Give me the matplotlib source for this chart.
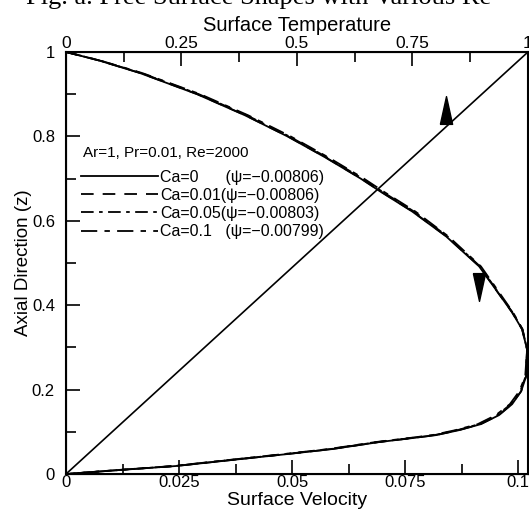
import numpy as np
import matplotlib.pyplot as plt
from matplotlib.path import Path
from matplotlib.ticker import MultipleLocator, FormatStrFormatter

plt.rcParams['font.family'] = ['Liberation Sans', 'DejaVu Sans']

# free surface velocity profiles (axial position z vs surface velocity)
z_pts = [1.0, 0.98, 0.95, 0.90, 0.85, 0.80, 0.75, 0.70, 0.669, 0.622, 0.563,
         0.492, 0.437, 0.383, 0.343, 0.2955, 0.2317, 0.1962, 0.1655, 0.1395, 0.1182,
         0.1040, 0.0922, 0.0851, 0.0757, 0.0591, 0.0473, 0.0331, 0.0189, 0.0095, 0.0]
u_ca0 = [0.0, 0.0073, 0.0164, 0.0290, 0.0396, 0.0490, 0.0574, 0.0652, 0.0696, 0.0766, 0.0841,
         0.0914, 0.0951, 0.0987, 0.1009, 0.1020, 0.1018, 0.1007, 0.0987, 0.0958, 0.0918,
         0.0870, 0.0819, 0.0766, 0.0693, 0.0589, 0.0490, 0.0366, 0.0243, 0.0119, 0.0]
u_ca001 = [0.0, 0.0073, 0.0165, 0.0291, 0.0397, 0.0491, 0.0575, 0.0653, 0.0697, 0.0767, 0.0842,
           0.0915, 0.0951, 0.0987, 0.1009, 0.1020, 0.1018, 0.1007, 0.0986, 0.0957, 0.0917,
           0.0869, 0.0818, 0.0765, 0.0692, 0.0588, 0.0489, 0.0365, 0.0242, 0.0119, 0.0]
u_ca005 = [0.0, 0.0074, 0.0167, 0.0294, 0.0400, 0.0494, 0.0578, 0.0656, 0.0700, 0.0770, 0.0844,
           0.0916, 0.0952, 0.0988, 0.1010, 0.1020, 0.1017, 0.1005, 0.0984, 0.0954, 0.0914,
           0.0866, 0.0815, 0.0762, 0.0689, 0.0585, 0.0486, 0.0362, 0.0240, 0.0117, 0.0]
u_ca01 = [0.0, 0.0075, 0.0169, 0.0297, 0.0403, 0.0497, 0.0581, 0.0659, 0.0703, 0.0773, 0.0846,
          0.0918, 0.0954, 0.0989, 0.1010, 0.1020, 0.1016, 0.1003, 0.0982, 0.0951, 0.0911,
          0.0862, 0.0811, 0.0758, 0.0685, 0.0581, 0.0482, 0.0359, 0.0237, 0.0115, 0.0]

# surface temperature (top axis)
temp = [0.0, 1.0]
z_temp = [0.0, 1.0]

labels = ['Ca=0      (\u03c8=\u22120.00806)',
          'Ca=0.01(\u03c8=\u22120.00806)',
          'Ca=0.05(\u03c8=\u22120.00803)',
          'Ca=0.1   (\u03c8=\u22120.00799)']

fig = plt.figure(figsize=(5.29, 5.11), dpi=100)
ax = fig.add_axes([0.1248, 0.0724, 0.8732, 0.8258])

styles = ['-', (0, (7, 5)), (0, (7, 3, 2, 3)), (0, (9, 4, 3, 4))]
series = [u_ca0, u_ca001, u_ca005, u_ca01]
handles = []
for u, ls in zip(series, styles):
    h, = ax.plot(u, z_pts, color='black', lw=1.3, linestyle=ls)
    handles.append(h)

ax.set_xlim(0, 0.1022)
ax.set_ylim(0, 1)
ax.xaxis.set_major_locator(MultipleLocator(0.025))
ax.xaxis.set_minor_locator(MultipleLocator(0.0125))
ax.yaxis.set_major_locator(MultipleLocator(0.2))
ax.yaxis.set_minor_locator(MultipleLocator(0.1))
ax.xaxis.set_major_formatter(FormatStrFormatter('%g'))
ax.yaxis.set_major_formatter(FormatStrFormatter('%g'))
ax.tick_params(which='major', direction='in', length=10, width=1.2, labelsize=12)
ax.tick_params(axis='x', pad=1)
ax.tick_params(axis='y', pad=8)
ax.tick_params(which='minor', direction='in', length=7, width=1.2)
ax.tick_params(right=False, which='both')
for s in ax.spines.values():
    s.set_linewidth(1.5)
ax.set_xlabel('Surface Velocity', fontsize=14, labelpad=1.5)
ax.set_ylabel('Axial Direction (z)', fontsize=13.5, labelpad=0)

# top axis: surface temperature
ax2 = ax.twiny()
ax2.plot(temp, z_temp, color='black', lw=1.2)
ax2.set_xlim(0, 1)
ax2.xaxis.set_major_locator(MultipleLocator(0.25))
ax2.xaxis.set_minor_locator(MultipleLocator(0.125))
ax2.xaxis.set_major_formatter(FormatStrFormatter('%g'))
ax2.tick_params(which='major', direction='in', length=10, width=1.2, labelsize=12.5, pad=1)
ax2.tick_params(which='minor', direction='in', length=7, width=1.2)
ax2.set_xlabel('Surface Temperature', fontsize=14.5, labelpad=3)

# direction arrows
tri_up = Path([(-0.22, -0.5), (0.22, -0.5), (0.0, 0.5), (-0.22, -0.5)])
tri_dn = Path([(-0.22, 0.5), (0.22, 0.5), (0.0, -0.5), (-0.22, 0.5)])
ax.plot([0.0841], [0.863], marker=tri_up, markersize=20, color='black', lw=0)
ax.plot([0.0914], [0.442], marker=tri_dn, markersize=20, color='black', lw=0)

ax.text(0.037, 0.76, 'Ar=1, Pr=0.01, Re=2000', transform=ax.transAxes, fontsize=11,
        va='center')
ax.legend(handles, labels, loc='upper left', bbox_to_anchor=(0.008, 0.748), frameon=False,
          fontsize=11.5, handlelength=4.8, handletextpad=0.15, labelspacing=0.2,
          borderpad=0.2)

fig.text(0.05, 0.993, 'Fig. a. Free Surface Shapes with Various Re', fontsize=19,
         family='Liberation Serif', va='baseline')

fig.savefig('out.png', dpi=100)
